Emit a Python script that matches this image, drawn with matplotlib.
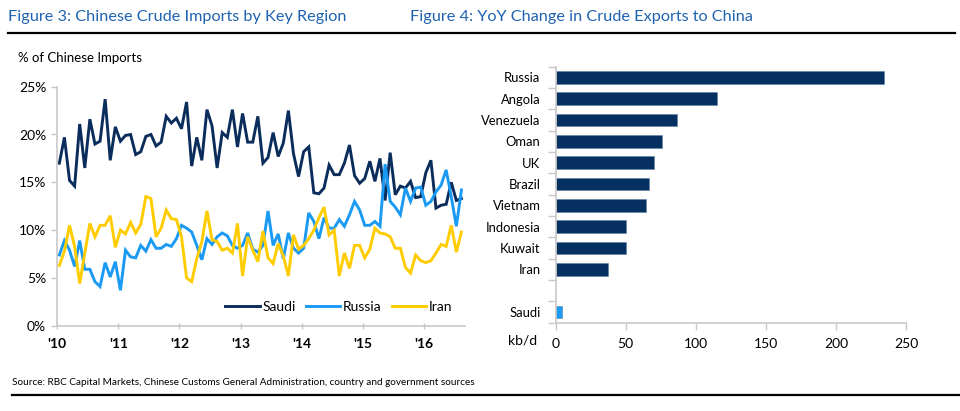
import numpy as np
import matplotlib
matplotlib.use("Agg")
import matplotlib.pyplot as plt
from matplotlib.lines import Line2D

# ---------------- Data ----------------
year_labels = ["'10", "'11", "'12", "'13", "'14", "'15", "'16"]

saudi = [17.0, 19.7, 15.2, 14.6, 21.1, 16.5, 21.6, 19.0, 19.3, 23.7,
         17.3, 20.8, 19.3, 19.9, 20.0, 17.9, 18.2, 19.8, 20.0, 18.8,
         19.2, 21.9, 21.2, 21.7, 20.6, 23.4, 16.7, 19.7, 17.3, 22.6,
         20.9, 16.5, 20.2, 19.7, 22.6, 18.7,
         22.2, 19.2, 19.2, 21.9, 17.0, 17.6, 20.2, 17.7, 19.1, 22.5,
         18.0, 15.6, 18.2, 18.7, 13.9, 13.8, 14.4, 16.8, 15.8, 15.8,
         17.0, 18.9, 15.7, 14.9, 15.4, 17.2, 15.1, 17.5, 13.1, 18.1,
         13.7, 14.6, 14.4, 15.1, 13.4, 13.5, 16.0, 17.3, 12.3, 12.6,
         12.7, 15.0, 13.1, 13.3]

russia = [7.4, 8.9, 7.9, 6.2, 8.9, 5.9, 5.9, 4.6, 4.1, 6.6,
          5.1, 6.7, 3.7, 7.9, 7.2, 7.1, 8.4, 7.8, 9.0, 8.1,
          8.1, 8.5, 8.3, 9.1, 10.5, 10.2, 9.8, 8.4, 6.9, 9.1,
          8.5, 9.3, 9.7, 9.4, 8.4, 8.1, 8.4, 9.7, 8.0, 7.7,
          8.4, 12.0, 8.4, 9.6, 7.0, 9.7, 8.1, 7.6, 8.1, 11.8,
          10.9, 9.1, 11.3, 10.2, 10.2, 11.1, 10.4, 11.6, 13.0, 12.1,
          10.5, 10.5, 10.9, 10.4, 16.9, 13.0, 12.4, 11.6, 14.4, 13.0,
          14.4, 14.5, 12.6, 13.0, 14.0, 14.7, 16.3, 13.5, 10.4, 14.2]

iran = [6.3, 7.8, 10.5, 8.3, 4.4, 7.6, 10.7, 9.3, 10.5, 10.5,
        11.5, 8.2, 10.0, 9.6, 10.8, 9.7, 10.6, 13.5, 13.3, 9.3,
        10.2, 12.1, 11.2, 11.1, 9.3, 5.0, 4.6, 7.0, 8.8, 12.0,
        9.0, 8.8, 7.9, 8.1, 7.6, 10.7, 5.2,
        9.3, 7.9, 6.7, 9.9, 7.1, 6.5, 8.6, 7.3, 5.2, 9.5,
        8.0, 8.4, 9.1, 10.0, 11.3, 12.4,
        9.5, 10.0, 5.2, 7.6, 6.0, 8.4, 8.4, 7.1, 8.0, 10.2,
        9.7, 9.6, 9.3, 8.1, 8.1, 6.1, 5.5, 7.4, 6.8, 6.6,
        6.8, 7.6, 8.5, 8.3, 10.5, 7.7, 9.8]

bar_countries = ["Russia", "Angola", "Venezuela", "Oman", "UK", "Brazil",
                 "Vietnam", "Indonesia", "Kuwait", "Iran", "", "Saudi"]
bar_values = [234.3, 114.9, 86.3, 76.1, 70.4, 66.8, 64.5, 50.2, 50.0, 37.3,
              np.nan, 4.8]

# ---------------- Style ----------------
FONT = ["Lato", "DejaVu Sans"]
plt.rcParams['font.family'] = FONT
NAVY = "#0b2d5c"
BLUE = "#1a9af2"
YELLOW = "#ffcc00"
BARNAVY = "#05305f"
TITLE_BLUE = "#1f63b0"
AXGRAY = "#c8c8c8"

fig = plt.figure(figsize=(9.6, 4.11), dpi=100)

# Titles
fig.text(8 / 960, 1 - 17 / 411, "Figure 3: Chinese Crude Imports by Key Region",
         fontsize=11.7, color=TITLE_BLUE, va="center", ha="left")
fig.text(410 / 960, 1 - 17 / 411, "Figure 4: YoY Change in Crude Exports to China",
         fontsize=11.7, color=TITLE_BLUE, va="center", ha="left")
fig.add_artist(Line2D([8 / 960, 955 / 960], [1 - 33 / 411, 1 - 33 / 411],
                      color="black", lw=1.6, transform=fig.transFigure))
fig.add_artist(Line2D([12 / 960, 960 / 960], [1 - 395 / 411, 1 - 395 / 411],
                      color="black", lw=1.6, transform=fig.transFigure))
fig.text(12 / 960, 1 - 382 / 411,
         "Source: RBC Capital Markets, Chinese Customs General Administration, country and government sources",
         fontsize=7.2, color="black", va="center", ha="left")

# ---------------- Line chart ----------------
ax1 = fig.add_axes([57.3 / 960, 1 - 325.7 / 411, (465 - 57.3) / 960, (325.7 - 86.7) / 411])
months = np.arange(len(saudi)) + 0.4
ax1.plot(months, saudi, color=NAVY, lw=2.1, label="Saudi", solid_joinstyle="miter")
ax1.plot(months, russia, color=BLUE, lw=2.1, label="Russia", solid_joinstyle="miter")
ax1.plot(months, iran, color=YELLOW, lw=2.1, label="Iran", solid_joinstyle="miter")
ax1.set_ylim(0, 25)
ax1.set_xlim(0, 80.1)
ax1.set_yticks([0, 5, 10, 15, 20, 25])
ax1.set_yticklabels([f"{v}%" for v in [0, 5, 10, 15, 20, 25]])
ax1.set_xticks(np.arange(len(year_labels)) * 12)
ax1.set_xticklabels(year_labels)
for s in ["top", "right"]:
    ax1.spines[s].set_visible(False)
for s in ["left", "bottom"]:
    ax1.spines[s].set_color(AXGRAY)
    ax1.spines[s].set_linewidth(1.2)
ax1.tick_params(axis="y", colors=AXGRAY, labelcolor="black", labelsize=10, length=4, width=1, pad=4)
ax1.tick_params(axis="x", colors=AXGRAY, labelcolor="black", labelsize=10, length=5,
                width=1, direction="inout", pad=6)
for lbl in ax1.get_xticklabels():
    lbl.set_fontweight("bold")
ax1.text(18 / 960, 1 - 58 / 411, "% of Chinese Imports", transform=fig.transFigure,
         fontsize=9.5, va="center", ha="left")
leg = ax1.legend(loc="lower right", bbox_to_anchor=(1.0, 0.0), ncol=3, frameon=False,
                 fontsize=10, handlelength=2.5, handletextpad=0.2, columnspacing=0.7)

# ---------------- Bar chart ----------------
ax2 = fig.add_axes([555.7 / 960, 1 - 322.7 / 411, (906 - 555.7) / 960, (322.7 - 66.7) / 411])
pos = np.arange(len(bar_countries))
colors = [BLUE if c == "Saudi" else BARNAVY for c in bar_countries]
ax2.barh(pos, bar_values, height=0.6, color=colors, edgecolor="#5b7fa6", linewidth=0.4)
ax2.set_ylim(len(bar_countries) - 0.5, -0.5)
ax2.set_xlim(0, 250)
ax2.set_xticks([0, 50, 100, 150, 200, 250])
ax2.set_yticks(pos)
ax2.set_yticklabels(bar_countries)
ax2.set_yticks(np.arange(len(bar_countries) + 1) - 0.5, minor=True)
ax2.tick_params(axis="y", which="major", length=0, labelsize=9.4, pad=11)
ax2.tick_params(axis="y", which="minor", length=6, colors=AXGRAY, width=1)
ax2.tick_params(axis="x", colors=AXGRAY, labelcolor="black", labelsize=10, length=5,
                width=1, pad=6)
for s in ["top", "right"]:
    ax2.spines[s].set_visible(False)
for s in ["left", "bottom"]:
    ax2.spines[s].set_color(AXGRAY)
    ax2.spines[s].set_linewidth(1.2)
fig.text(537 / 960, 1 - 340 / 411, "kb/d", fontsize=10, va="center", ha="right")

fig.savefig("out.png", dpi=100)
